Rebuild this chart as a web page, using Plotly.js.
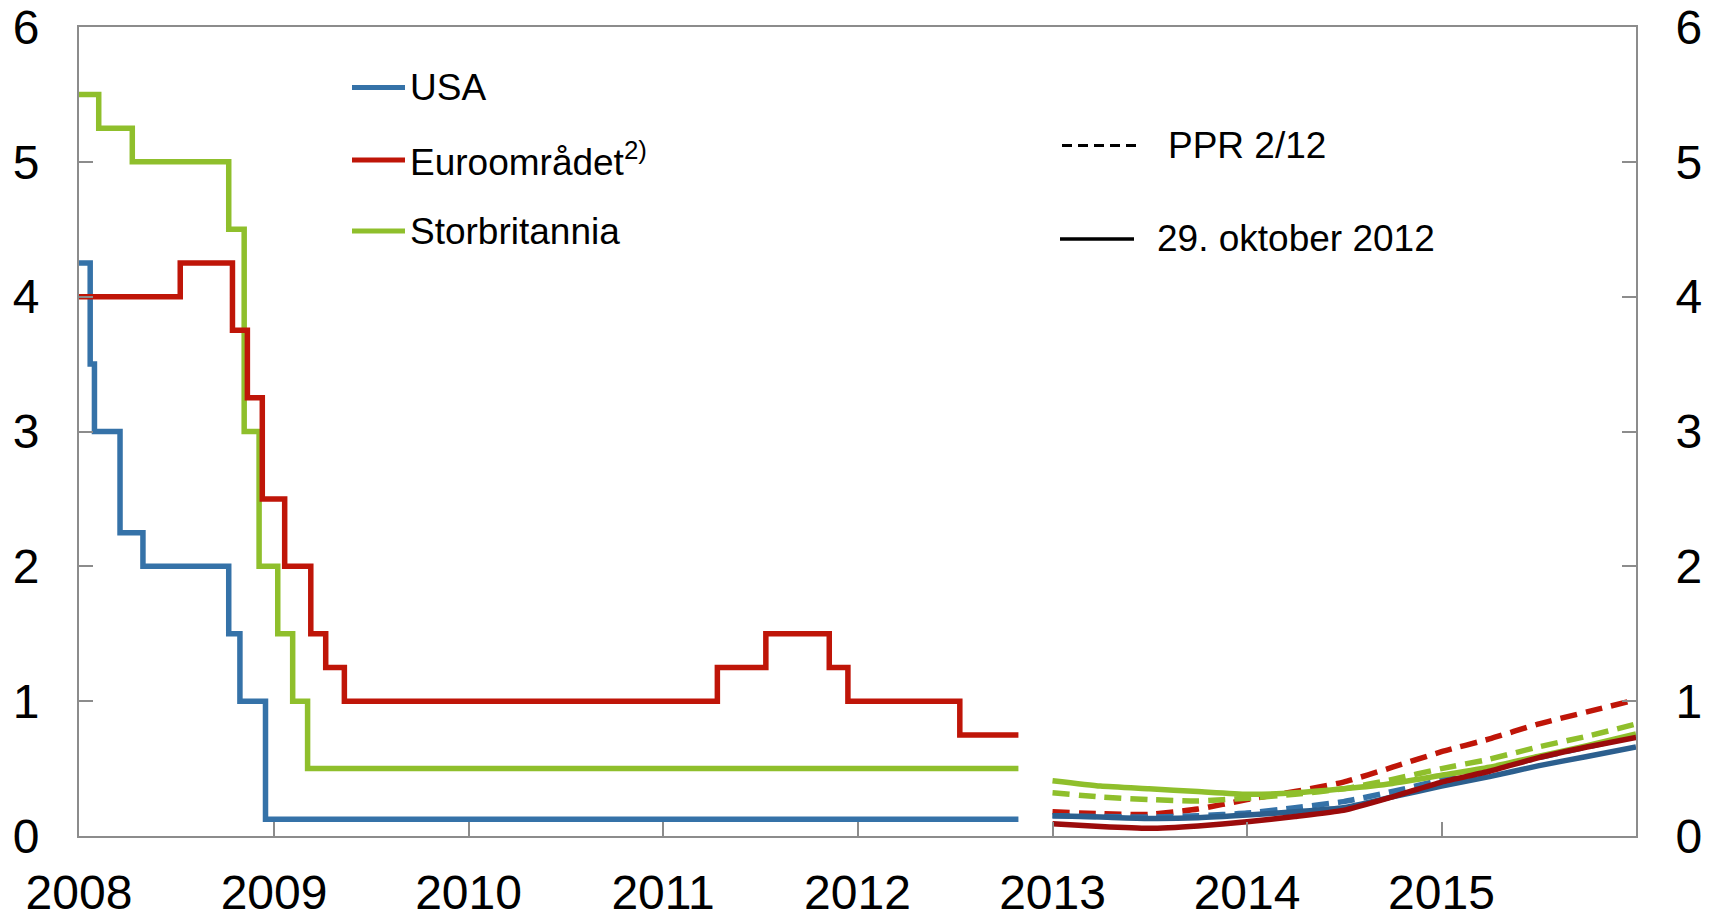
<!DOCTYPE html>
<html>
<head>
<meta charset="utf-8">
<script src="https://cdn.plot.ly/plotly-3.0.1.min.js"></script>
<style>html,body{margin:0;padding:0;background:#fff;}#chart{width:1717px;height:917px;}</style>
</head>
<body>
<div id="chart"></div>
<script>
// ---- Data ----
const usaDates = ['2008-01-01','2008-01-22','2008-01-30','2008-03-18','2008-04-30','2008-10-08','2008-10-29','2008-12-16','2012-10-29'];
const usaRates = [4.25, 3.5, 3.0, 2.25, 2.0, 1.5, 1.0, 0.125, 0.125];

const euroDates = ['2008-01-01','2008-07-09','2008-10-15','2008-11-12','2008-12-10','2009-01-21','2009-03-11','2009-04-08','2009-05-13','2011-04-13','2011-07-13','2011-11-09','2011-12-14','2012-07-11','2012-10-29'];
const euroRates = [4.0, 4.25, 3.75, 3.25, 2.5, 2.0, 1.5, 1.25, 1.0, 1.25, 1.5, 1.25, 1.0, 0.75, 0.75];

const ukDates = ['2008-01-01','2008-02-07','2008-04-10','2008-10-08','2008-11-06','2008-12-04','2009-01-08','2009-02-05','2009-03-05','2012-10-29'];
const ukRates = [5.5, 5.25, 5.0, 4.5, 3.0, 2.0, 1.5, 1.0, 0.5, 0.5];

const fcDates = ['2013-01-01','2013-04-01','2013-07-01','2013-10-01','2014-01-01','2014-04-01','2014-07-01','2014-10-01','2015-01-01','2015-04-01','2015-07-01','2015-10-01','2016-01-01'];
// 29. oktober 2012 (solid)
const usaOct = [0.15, 0.14, 0.13, 0.135, 0.155, 0.18, 0.21, 0.29, 0.37, 0.44, 0.52, 0.59, 0.66];
const euroOct = [0.09, 0.07, 0.057, 0.075, 0.106, 0.145, 0.19, 0.29, 0.40, 0.48, 0.58, 0.66, 0.73];
const ukOct = [0.41, 0.37, 0.35, 0.33, 0.31, 0.32, 0.35, 0.39, 0.45, 0.51, 0.59, 0.67, 0.757];
// PPR 2/12 (dashed)
const usaPPR = [0.15, 0.145, 0.14, 0.15, 0.17, 0.21, 0.255, 0.33, 0.415, 0.49, 0.58, 0.66, 0.74];
const euroPPR = [0.18, 0.165, 0.16, 0.20, 0.27, 0.33, 0.40, 0.51, 0.625, 0.72, 0.83, 0.92, 1.01];
const ukPPR = [0.32, 0.29, 0.27, 0.26, 0.28, 0.31, 0.35, 0.42, 0.50, 0.57, 0.66, 0.74, 0.83];

const yearTicks = ['2008-01-01','2009-01-01','2010-01-01','2011-01-01','2012-01-01','2013-01-01','2014-01-01','2015-01-01'];
const yearLabels = ['2008','2009','2010','2011','2012','2013','2014','2015'];
const yTicks = [0,1,2,3,4,5,6];

const seriesNames = ['USA', 'Euroområdet<sup>2)</sup>', 'Storbritannia'];
const scenarioNames = ['PPR 2/12', '29. oktober 2012'];

// ---- Styles ----
const BLUE = '#3572a8', BLUE_D = '#2c5f8e';
const RED = '#bf1508', RED_D = '#9b0b0b';
const GREEN = '#8fbf2c';
const FONT = 'Arial, "Liberation Sans", sans-serif';
const AX = '#8c8c8c';
const LW = 5.5;
const DASH = '17px,9px';

function step(x, y, c) {
  return {x: x, y: y, type: 'scatter', mode: 'lines', line: {color: c, width: LW, shape: 'hv'}, showlegend: false};
}
function fc(y, c, dash) {
  return {x: fcDates, y: y, type: 'scatter', mode: 'lines', line: {color: c, width: LW, dash: dash, shape: 'spline', smoothing: 0.5}, showlegend: false};
}

const traces = [
  fc(ukPPR, GREEN, DASH), fc(euroPPR, RED, DASH), fc(usaPPR, BLUE, DASH),
  fc(ukOct, GREEN, 'solid'), fc(usaOct, BLUE_D, 'solid'), fc(euroOct, RED_D, 'solid'),
  step(usaDates, usaRates, BLUE), step(ukDates, ukRates, GREEN), step(euroDates, euroRates, RED)
];
// the right-hand axis shares the same scale; attach one series so that it is drawn
traces[0].yaxis = 'y2';

// plot box in pixels
const L = 79, R = 1636, T = 27, B = 836;
const px = v => (v - L) / (R - L);
const py = v => (B - v) / (B - T);

const legendColors = [BLUE, RED, GREEN];
const legendY = [87.6, 160, 231];
const shapes = [];
const annotations = [];
seriesNames.forEach((n, i) => {
  shapes.push({type: 'line', xref: 'paper', yref: 'paper', x0: px(352), x1: px(405), y0: py(legendY[i]), y1: py(legendY[i]),
    line: {color: legendColors[i], width: 5}});
  annotations.push({xref: 'paper', yref: 'paper', x: px(408), y: py(legendY[i]), xanchor: 'left', yanchor: 'middle',
    text: n, showarrow: false, font: {family: FONT, size: 37, color: '#000'}});
});
shapes.push({type: 'line', xref: 'paper', yref: 'paper', x0: px(1062), x1: px(1137), y0: py(145.5), y1: py(145.5),
  line: {color: '#000', width: 3, dash: '10px,6px'}});
shapes.push({type: 'line', xref: 'paper', yref: 'paper', x0: px(1060), x1: px(1134), y0: py(239), y1: py(239),
  line: {color: '#000', width: 3.5}});
annotations.push({xref: 'paper', yref: 'paper', x: px(1166), y: py(145.5), xanchor: 'left', yanchor: 'middle',
  text: scenarioNames[0], showarrow: false, font: {family: FONT, size: 37, color: '#000'}});
annotations.push({xref: 'paper', yref: 'paper', x: px(1155), y: py(239), xanchor: 'left', yanchor: 'middle',
  text: scenarioNames[1], showarrow: false, font: {family: FONT, size: 37, color: '#000'}});

const yCommon = {
  range: [0, 6], tickvals: yTicks, ticktext: yTicks.map(String), ticks: 'inside', ticklen: 14, tickwidth: 2, tickcolor: AX,
  showline: true, linecolor: AX, linewidth: 2, showgrid: false, zeroline: false, fixedrange: true,
  tickfont: {family: FONT, size: 48, color: '#000'}, ticklabelstandoff: 28
};

const layout = {
  width: 1717, height: 917,
  margin: {l: L, r: 1717 - R, t: T, b: 917 - B},
  paper_bgcolor: '#fff', plot_bgcolor: '#fff',
  showlegend: false,
  xaxis: {
    type: 'date', range: ['2008-01-01', '2016-01-01'], tickvals: yearTicks, ticktext: yearLabels,
    ticks: 'inside', ticklen: 14, tickwidth: 2, tickcolor: AX, showline: true, linecolor: AX, linewidth: 2,
    mirror: true, showgrid: false, zeroline: false, fixedrange: true,
    tickfont: {family: FONT, size: 48, color: '#000'}, ticklabelstandoff: 13
  },
  yaxis: Object.assign({}, yCommon, {side: 'left'}),
  yaxis2: Object.assign({}, yCommon, {side: 'right', overlaying: 'y'}),
  shapes: shapes,
  annotations: annotations
};

Plotly.newPlot('chart', traces, layout, {staticPlot: true, displayModeBar: false});
</script>
</body>
</html>
